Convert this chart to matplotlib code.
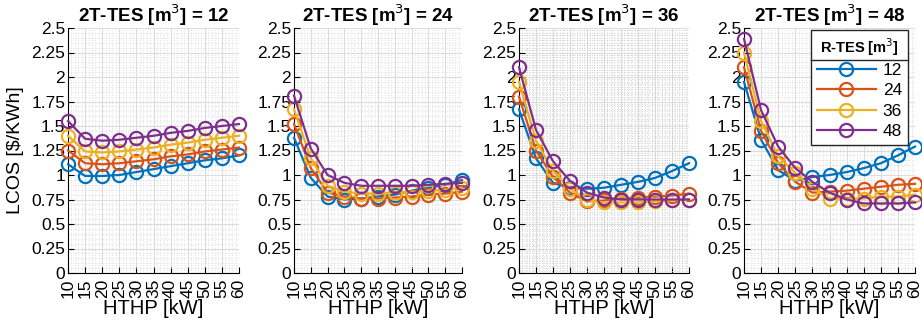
import numpy as np
import matplotlib
matplotlib.use("Agg")
import matplotlib.pyplot as plt
from matplotlib.ticker import MultipleLocator, FuncFormatter
from matplotlib.lines import Line2D

plt.rcParams['font.family'] = ['Liberation Sans', 'DejaVu Sans']

hthp = [10, 15, 20, 25, 30, 35, 40, 45, 50, 55, 60]
rtes = ['12', '24', '36', '48']
tes2 = [12, 24, 36, 48]

# LCOS [$/kWh], one list per R-TES size, per 2T-TES panel
lcos_12 = [
    [1.11, 0.99, 0.99, 1.00, 1.03, 1.06, 1.09, 1.12, 1.15, 1.17, 1.20],
    [1.25, 1.12, 1.11, 1.12, 1.14, 1.16, 1.19, 1.21, 1.24, 1.26, 1.28],
    [1.40, 1.24, 1.23, 1.24, 1.26, 1.28, 1.31, 1.33, 1.36, 1.38, 1.40],
    [1.55, 1.37, 1.35, 1.36, 1.38, 1.40, 1.43, 1.45, 1.48, 1.50, 1.52],
]
lcos_24 = [
    [1.38, 0.97, 0.78, 0.75, 0.76, 0.78, 0.80, 0.84, 0.87, 0.90, 0.95],
    [1.52, 1.07, 0.82, 0.78, 0.76, 0.76, 0.77, 0.78, 0.80, 0.81, 0.83],
    [1.67, 1.17, 0.89, 0.83, 0.81, 0.81, 0.82, 0.83, 0.84, 0.85, 0.87],
    [1.81, 1.27, 1.00, 0.92, 0.89, 0.89, 0.89, 0.89, 0.90, 0.91, 0.92],
]
lcos_36 = [
    [1.67, 1.17, 0.92, 0.87, 0.86, 0.87, 0.90, 0.93, 0.97, 1.04, 1.12],
    [1.80, 1.25, 0.98, 0.82, 0.73, 0.74, 0.76, 0.77, 0.78, 0.79, 0.81],
    [1.95, 1.35, 1.04, 0.86, 0.74, 0.72, 0.72, 0.72, 0.73, 0.74, 0.75],
    [2.10, 1.46, 1.14, 0.94, 0.82, 0.77, 0.75, 0.75, 0.75, 0.75, 0.75],
]
lcos_48 = [
    [1.95, 1.36, 1.05, 0.94, 0.98, 1.00, 1.03, 1.07, 1.12, 1.20, 1.29],
    [2.10, 1.45, 1.12, 0.93, 0.82, 0.83, 0.84, 0.86, 0.88, 0.90, 0.91],
    [2.25, 1.55, 1.19, 1.02, 0.86, 0.76, 0.76, 0.76, 0.78, 0.78, 0.80],
    [2.39, 1.66, 1.29, 1.07, 0.93, 0.82, 0.75, 0.71, 0.71, 0.71, 0.72],
]
panels = [lcos_12, lcos_24, lcos_36, lcos_48]

colors = ['#0072BD', '#D95319', '#EDB120', '#7E2F8E']

fig = plt.figure(figsize=(9.22, 3.27), dpi=100)
lefts = [68, 294, 519, 744]
widths = [171, 168, 170, 171]

fmt = FuncFormatter(lambda v, p: '%g' % v)

for i, data in enumerate(panels):
    ax = fig.add_axes([lefts[i] / 922, 1 - 273 / 327, widths[i] / 922, 245 / 327])
    for j, y in enumerate(data):
        ax.plot(hthp, y, '-o', color=colors[j], lw=1.6, ms=9.5,
                mfc='none', mew=1.6, label=rtes[j], clip_on=False, zorder=3)
    ax.set_xlim(10, 60)
    ax.set_ylim(0, 2.5)
    ax.set_xticks(hthp)
    ax.set_yticks(np.arange(0, 2.51, 0.25))
    ax.yaxis.set_major_formatter(fmt)
    ax.xaxis.set_minor_locator(MultipleLocator(1))
    ax.yaxis.set_minor_locator(MultipleLocator(0.025 if i == 2 else 0.05))
    ax.tick_params(axis='both', which='major', direction='in', length=4,
                   labelsize=12.5, pad=2)
    ax.tick_params(axis='x', which='major', labelrotation=90, pad=4)
    ax.tick_params(which='minor', length=0)
    ax.grid(True, which='major', color='#dcdcdc', lw=0.8)
    minor_col = '#c4c4c4' if i == 2 else '#d6d6d6'
    ax.grid(True, which='minor', color=minor_col, lw=0.6, ls=(0, (1, 2)))
    ax.set_axisbelow(True)
    for s in ['top', 'right']:
        ax.spines[s].set_visible(False)
    ax.set_title('2T-TES [m$^3$] = %d' % tes2[i], fontsize=13.5,
                 fontweight='bold', pad=4)
    ax.set_xlabel('HTHP [kW]', fontsize=14.5, labelpad=1)
    if i == 0:
        ax.set_ylabel('LCOS [$/KWh]', fontsize=14, labelpad=5)
    if i == 3:
        leg = ax.legend(title='R-TES [m$^3$]', loc='upper right',
                        bbox_to_anchor=(0.97, 1.0), fontsize=12.5,
                        title_fontproperties={'weight': 'bold', 'size': 10.5},
                        fancybox=False, edgecolor='#262626', framealpha=1,
                        handlelength=3.4, borderpad=0.35, labelspacing=0.3,
                        handletextpad=0.4, borderaxespad=0.1)
        leg.get_frame().set_linewidth(1.0)

fig.canvas.draw()
bb = leg.get_window_extent()
tb = leg.get_title().get_window_extent()
ysep = tb.y0 - 2
inv = fig.transFigure.inverted()
x0, y0 = inv.transform((bb.x0, ysep))
x1, _ = inv.transform((bb.x1, ysep))
fig.add_artist(Line2D([x0, x1], [y0, y0], transform=fig.transFigure,
                      color='#262626', lw=1.0, zorder=10))

fig.savefig('out.png', dpi=100)
